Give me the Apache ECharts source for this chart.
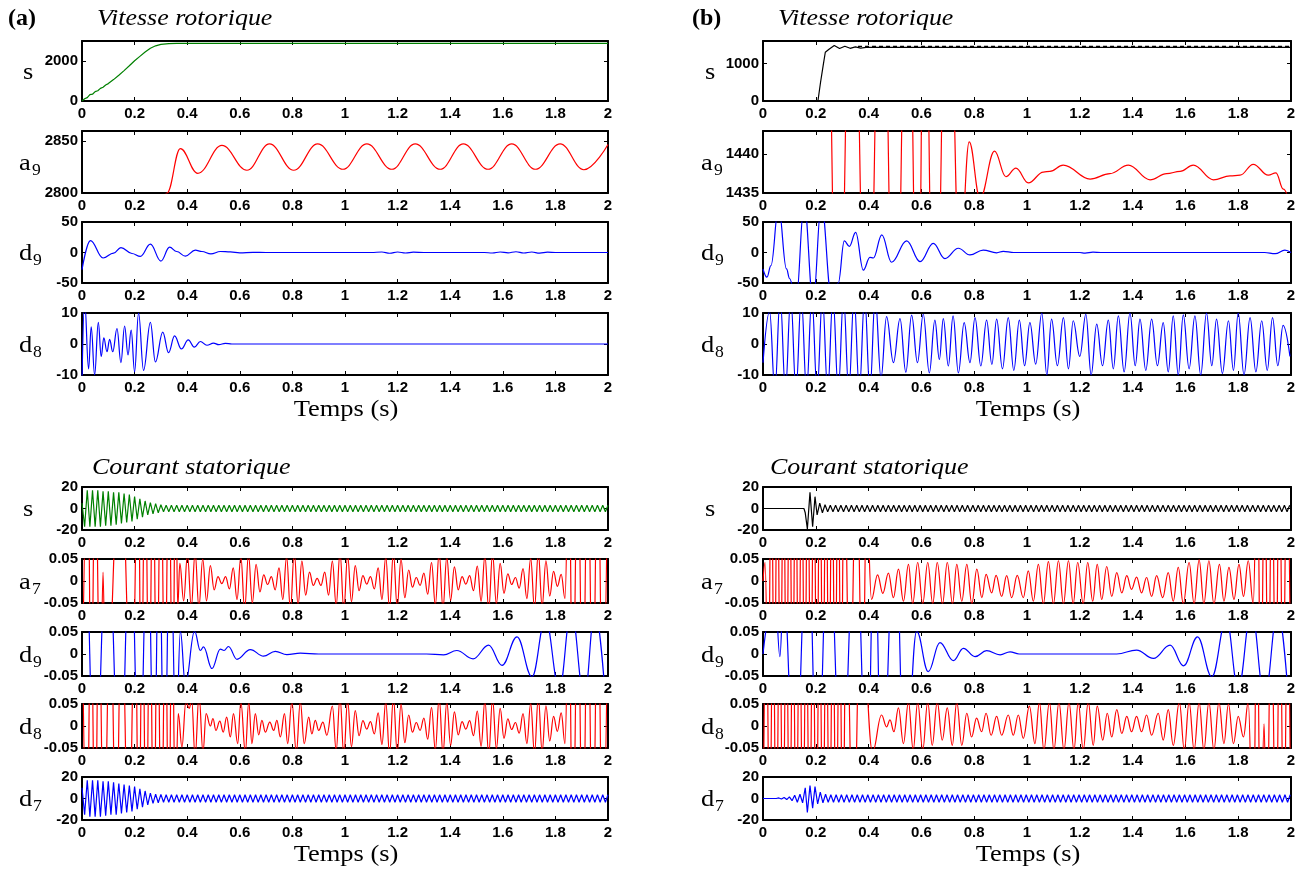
<!DOCTYPE html>
<html><head><meta charset="utf-8">
<script src="https://cdn.jsdelivr.net/npm/echarts@6/dist/echarts.min.js"></script>
<style>html,body{margin:0;padding:0;background:#fff}#c{width:1308px;height:870px}</style>
</head><body><div id="c"></div><script>
// ---------------- DATA ----------------
const xTickLabels = ['0','0.2','0.4','0.6','0.8','1','1.2','1.4','1.6','1.8','2'];

// Vitesse rotorique (a)
const aVitS = [[0,0],[0.01,110],[0.02,170],[0.03,320],[0.04,340],[0.05,470],[0.06,510],[0.07,630],[0.08,690],[0.09,800],[0.1,870],[0.12,1070],[0.14,1290],[0.16,1520],[0.18,1760],[0.2,2010],[0.22,2230],[0.24,2450],[0.26,2640],[0.28,2760],[0.3,2830],[0.33,2870],[0.36,2880],[2,2880]];
const aVitA9 = [[0.29,2770],[0.323,2800],[0.374,2843],[0.44,2819],[0.532,2846],[0.627,2822],[0.713,2847.5],[0.805,2822],[0.896,2847.5],[0.992,2823],[1.083,2847.5],[1.178,2823],[1.267,2847.5],[1.362,2823],[1.45,2847.5],[1.544,2823],[1.634,2847.5],[1.724,2823],[1.818,2847.5],[1.908,2822.5],[2.0,2847]];
const aVitD9 = [[0,-28],[0.032,19.6],[0.08,-9],[0.12,-1],[0.148,8],[0.19,-1.6],[0.222,-6.5],[0.26,13.6],[0.3,-14],[0.333,8.7],[0.36,1.6],[0.393,-6],[0.431,3.8],[0.456,1.6],[0.49,-2.2],[0.526,1.6],[0.564,1],[0.6,-0.5],[0.65,0.3],[0.7,0],[1.1,0],[1.14,0.8],[1.17,-1.2],[1.2,0.8],[1.23,-0.8],[1.26,0.5],[1.3,0],[1.53,0],[1.56,-0.8],[1.59,0.8],[1.62,-0.5],[1.65,1.2],[1.68,-0.8],[1.71,0.8],[1.74,-1],[1.77,0.5],[1.8,0],[2,0]];
const aVitD8 = [[0,-12],[0.01,14],[0.025,-8],[0.035,5.5],[0.048,-10],[0.062,7],[0.073,-4],[0.083,2],[0.095,-2.5],[0.105,1.5],[0.117,-2.5],[0.133,5],[0.148,-6],[0.162,5.8],[0.175,-3.5],[0.187,4.5],[0.2,-9],[0.215,10],[0.234,-8.5],[0.26,7],[0.279,-5.8],[0.307,3.8],[0.329,-2.8],[0.352,2.6],[0.378,-1.6],[0.404,1.3],[0.427,-1],[0.45,0.8],[0.475,-0.4],[0.5,0.3],[0.52,-0.2],[0.545,0.2],[0.57,0],[2,0]];

// Vitesse rotorique (b)
const bVitS = [[0,0],[0.2,0],[0.208,0],[0.218,500],[0.228,950],[0.236,1300],[0.25,1380],[0.27,1480],[0.29,1400],[0.31,1460],[0.33,1405],[0.35,1445],[0.37,1410],[0.39,1430],[2,1430]];
const bVitRef = [[0.36,1455],[2,1455]];
const bVitA9 = [[0,1470],[0.24,1470],[0.284,1405],[0.338,1475],[0.395,1405],[0.45,1475],[0.5,1405],[0.548,1475],[0.587,1410],[0.611,1470],[0.65,1405],[0.70,1475],[0.745,1425],[0.781,1441.6],[0.822,1434.3],[0.877,1440.4],[0.92,1437.1],[0.958,1438.2],[1.005,1436.3],[1.062,1437.7],[1.087,1437.8],[1.137,1438.6],[1.239,1436.8],[1.314,1437.5],[1.384,1438.6],[1.466,1436.7],[1.529,1437.5],[1.58,1437.8],[1.63,1438.6],[1.706,1436.7],[1.769,1437.2],[1.807,1437.3],[1.857,1438.7],[1.914,1437.3],[1.943,1437.6],[1.971,1435.5],[2,1433]];
const bVitD9 = [[0,-27],[0.015,-40.5],[0.03,-21.6],[0.059,75],[0.089,-27],[0.101,-43],[0.125,-80],[0.156,80],[0.19,-80],[0.221,80],[0.26,-75],[0.285,-50],[0.308,19],[0.327,10],[0.351,33],[0.38,-29],[0.405,-8],[0.418,-9],[0.45,29],[0.487,-16],[0.544,19],[0.595,-15],[0.645,15],[0.689,-10],[0.74,7],[0.784,-4],[0.834,4],[0.885,-0.5],[0.91,2],[0.95,0],[1.2,0],[1.22,-1],[1.25,0.5],[1.28,0],[1.9,0],[1.94,-2],[1.977,4],[2,0]];
const bVitD8 = [[0,-6],[0.025,10.5],[0.045,-15],[0.065,15],[0.085,-15],[0.105,15],[0.125,-15],[0.145,15],[0.165,-15],[0.185,15],[0.205,-15],[0.225,15],[0.245,-15],[0.265,15],[0.285,-15],[0.305,15],[0.325,-15],[0.345,15],[0.365,-15],[0.385,15],[0.405,-15],[0.425,15],[0.447,-11],[0.468,8.8],[0.494,-6],[0.519,8.2],[0.541,-9.1],[0.563,9.3],[0.585,-6],[0.607,9.6],[0.63,-9.3],[0.651,7.7],[0.668,-5],[0.683,8.2],[0.702,-7.1],[0.72,9.1],[0.74,-9.3],[0.762,6.9],[0.784,-6],[0.803,8.5],[0.825,-7.1],[0.847,7.7],[0.867,-6.6],[0.885,8],[0.907,-8],[0.929,8.5],[0.95,-8.5],[0.971,7.7],[0.991,-7],[1.011,6.9],[1.033,-6.5],[1.056,10],[1.075,-10],[1.093,8],[1.115,-7],[1.138,8.5],[1.157,-8],[1.175,7.5],[1.2,-4],[1.223,9.6],[1.243,-10],[1.264,6.4],[1.286,-7],[1.308,7.7],[1.327,-8],[1.346,9.1],[1.368,-9],[1.39,10],[1.41,-7],[1.428,8],[1.45,-8.5],[1.472,8],[1.494,-7],[1.516,6.9],[1.535,-9],[1.554,9.1],[1.573,-10],[1.592,9.4],[1.614,-8],[1.636,9.1],[1.658,-10],[1.68,10],[1.7,-7],[1.718,8],[1.74,-9.5],[1.763,7.5],[1.782,-8.5],[1.8,10],[1.822,-10],[1.845,8.5],[1.867,-9],[1.889,7.5],[1.91,-8.5],[1.93,8.5],[1.95,-7],[1.97,6],[1.996,-4]];

// Courant statorique (a) — extrema every 0.01 s from t = 0
const aCurS_t0 = 0, aCurS_dt = 0.01;
const aCurS_vals = [5,-17,17,-17,17,-17,17,-17,16,-16,16,-16,15,-15,15,-14,14,-13,13,-12,11,-10,9,-8,7,-6,5.5,-5,4.5,-4,3.5,
-3,3,-3,3,-3,3,-3,3,-3,3,-3,3,-3,3,-3,3,-3,3,-3,3,
-3,3,-3,3,-3,3,-3,3,-3,3,-3,3,-3,3,-3,3,-3,3,-3,3,
-3,3,-3,3,-3,3,-3,3,-3,3,-3,3,-3,3,-3,3,-3,3,-3,3,
-3,3,-3,3,-3,3,-3,3,-3,3,-3,3,-3,3,-3,3,-3,3,-3,3,
-3,3,-3,3,-3,3,-3,3,-3,3,-3,3,-3,3,-3,3,-3,3,-3,3,
-3,3,-3,3,-3,3,-3,3,-3,3,-3,3,-3,3,-3,3,-3,3,-3,3,
-3,3,-3,3,-3,3,-3,3,-3,3,-3,3,-3,3,-3,3,-3,3,-3,3,
-3,3,-3,3,-3,3,-3,3,-3,3,-3,3,-3,3,-3,3,-3,3,-3,3,
-3,3,-3,3,-3,3,-3,3,-3,3];
const aCurA7 = [[0,-0.3],[0.022,0.3],[0.035,-0.3],[0.05,0.3],[0.07,-0.3],[0.08,0.02],[0.09,-0.3],[0.146,0.3],[0.19,-0.3],[0.214,0.3],[0.225,-0.3],[0.24,0.3],[0.255,-0.3],[0.27,0.3],[0.284,-0.3],[0.3,0.3],[0.315,-0.3],[0.33,0.3],[0.345,-0.3],[0.356,0.3],[0.364,-0.06],
[0.372,0.040],[0.3865,-0.045],[0.401,0.06],[0.4155,-0.06],[0.43,0.065],[0.4445,-0.06],[0.459,0.05],[0.4735,-0.045],[0.488,0.035],[0.5025,-0.02],[0.517,0.01],[0.5315,-0.006],[0.546,0.01],[0.5605,-0.018],[0.575,0.03],[0.5895,-0.042],[0.604,0.055],[0.6185,-0.065],[0.633,0.06],[0.6475,-0.05],[0.662,0.038],[0.6765,-0.025],[0.691,0.014],[0.7055,-0.008],[0.72,0.01],[0.7345,-0.02],[0.749,0.03],[0.7635,-0.042],[0.778,0.055],[0.7925,-0.065],[0.807,0.065],[0.8215,-0.055],[0.836,0.045],[0.8505,-0.032],[0.865,0.02],[0.8795,-0.01],[0.894,0.006],[0.9085,-0.01],[0.923,0.02],[0.9375,-0.032],[0.952,0.045],[0.9665,-0.056],[0.981,0.065],[0.9955,-0.065],[1.01,0.058],[1.0245,-0.047],[1.039,0.035],[1.0535,-0.022],[1.068,0.012],[1.0825,-0.007],[1.097,0.01],[1.1115,-0.018],[1.126,0.03],[1.1405,-0.042],[1.155,0.055],[1.1695,-0.064],[1.184,0.065],[1.1985,-0.06],[1.213,0.05],[1.2275,-0.038],[1.242,0.025],[1.2565,-0.014],[1.271,0.008],[1.2855,-0.01],[1.3,0.018],[1.3145,-0.03],[1.329,0.042],[1.3435,-0.055],[1.358,0.065],[1.3725,-0.063],[1.387,0.055],[1.4015,-0.044],[1.416,0.032],[1.4305,-0.02],[1.445,0.01],[1.4595,-0.007],[1.474,0.012],[1.4885,-0.022],[1.503,0.034],[1.5175,-0.046],[1.532,0.058],[1.5465,-0.065],[1.561,0.062],[1.5755,-0.052],[1.59,0.04],[1.6045,-0.028],[1.619,0.016],[1.6335,-0.008],[1.648,0.008],[1.6625,-0.016],[1.677,0.028],[1.6915,-0.04],[1.706,0.052],[1.7205,-0.062],[1.735,0.065],[1.7495,-0.058],[1.764,0.046],[1.7785,-0.034],[1.793,0.022],[1.8075,-0.012],[1.822,0.015],[1.8365,-0.04],[1.851,0.3],[1.866,-0.3],[1.885,0.3],[1.904,-0.3],[1.923,0.3],[1.942,-0.3],[1.961,0.3],[1.98,-0.3],[2,0.3]];
const aCurD9 = [[0,0.3],[0.01,0.3],[0.049,-0.3],[0.097,0.3],[0.145,-0.3],[0.184,0.3],[0.218,-0.3],[0.25,0.3],[0.274,-0.3],[0.293,0.3],[0.313,-0.3],[0.335,0.3],[0.358,-0.2],[0.374,0.052],[0.393,-0.07],[0.428,0.052],[0.45,0.008],[0.462,0.016],[0.494,-0.033],[0.526,0.011],[0.54,0.008],[0.557,0.017],[0.589,-0.012],[0.64,0.01],[0.69,-0.005],[0.735,0.006],[0.779,-0.0015],[0.83,0.002],[0.9,0],[1.31,0],[1.375,-0.002],[1.425,0.008],[1.487,-0.011],[1.546,0.02],[1.597,-0.026],[1.654,0.039],[1.711,-0.052],[1.762,0.08],[1.815,-0.08],[1.86,0.1],[1.91,-0.1],[1.95,0.1],[1.99,-0.1]];
const aCurD8 = [[0,0.3],[0.019,-0.3],[0.034,0.3],[0.05,-0.3],[0.064,0.3],[0.083,-0.3],[0.108,0.3],[0.13,-0.3],[0.15,0.3],[0.178,-0.3],[0.202,0.3],[0.216,-0.3],[0.23,0.3],[0.244,-0.3],[0.258,0.3],[0.273,-0.3],[0.287,0.3],[0.302,-0.3],[0.317,0.3],[0.33,-0.3],[0.342,0.3],[0.355,-0.2],
[0.366,0.028],[0.38,-0.048],[0.395,0.055],[0.408,0.04],[0.417,0.06],[0.43,-0.07],[0.445,0.07],[0.46,-0.06],[0.472,0.028],[0.488,0],[0.498,0.017],[0.509,-0.01],[0.524,0.011],[0.537,-0.014],[0.55,0.02],[0.564,-0.025],[0.576,0.028],[0.592,-0.04],[0.604,0.055],[0.621,-0.06],[0.634,0.055],[0.646,-0.04],[0.659,0.028],[0.672,-0.02],[0.684,0.013],[0.697,-0.014],[0.714,0.009],[0.729,-0.01],[0.741,0.013],[0.754,-0.025],[0.77,0.028],[0.782,-0.04],[0.798,0.055],[0.815,-0.06],[0.83,0.055],[0.845,-0.04],[0.862,0.02],[0.874,-0.018],[0.887,0.013],[0.9,-0.01],[0.916,0.009],[0.931,-0.021],
[0.952,0.045],[0.9665,-0.056],[0.981,0.065],[0.9955,-0.065],[1.01,0.058],[1.0245,-0.047],[1.039,0.035],[1.0535,-0.022],[1.068,0.012],[1.0825,-0.007],[1.097,0.01],[1.1115,-0.018],[1.126,0.03],[1.1405,-0.042],[1.155,0.055],[1.1695,-0.064],[1.184,0.065],[1.1985,-0.06],[1.213,0.05],[1.2275,-0.038],[1.242,0.025],[1.2565,-0.014],[1.271,0.008],[1.2855,-0.01],[1.3,0.018],[1.3145,-0.03],[1.329,0.042],[1.3435,-0.055],[1.358,0.065],[1.3725,-0.063],[1.387,0.055],[1.4015,-0.044],[1.416,0.032],[1.4305,-0.02],[1.445,0.01],[1.4595,-0.007],[1.474,0.012],[1.4885,-0.022],[1.503,0.034],[1.5175,-0.046],[1.532,0.058],[1.5465,-0.065],[1.561,0.062],[1.5755,-0.052],[1.59,0.04],[1.6045,-0.028],[1.619,0.016],[1.6335,-0.008],[1.648,0.008],[1.6625,-0.016],[1.677,0.028],[1.6915,-0.04],[1.706,0.052],[1.7205,-0.062],[1.735,0.065],[1.7495,-0.058],[1.764,0.046],[1.7785,-0.034],[1.793,0.022],[1.8075,-0.012],[1.822,0.03],[1.8365,-0.04],[1.851,0.3],[1.866,-0.3],[1.885,0.3],[1.904,-0.3],[1.923,0.3],[1.942,-0.3],[1.961,0.3],[1.98,-0.3],[2,0.3]];
const aCurD7_t0 = 0, aCurD7_dt = 0.01;
const aCurD7_vals = [10,-15,17,-17,17,-17,17,-17,16,-16,16,-15,15,-15,14,-14,13,-13,12,-12,11,-10,9,-8,7,-6,5,-4.5,4,-4,3.8,
-3.5,3.5,-3.5,3.5,-3.5,3.5,-3.5,3.5,-3.5,3.5,-3.5,3.5,-3.5,3.5,-3.5,3.5,-3.5,3.5,-3.5,3.5,
-3.5,3.5,-3.5,3.5,-3.5,3.5,-3.5,3.5,-3.5,3.5,-3.5,3.5,-3.5,3.5,-3.5,3.5,-3.5,3.5,-3.5,3.5,
-3.5,3.5,-3.5,3.5,-3.5,3.5,-3.5,3.5,-3.5,3.5,-3.5,3.5,-3.5,3.5,-3.5,3.5,-3.5,3.5,-3.5,3.5,
-3.5,3.5,-3.5,3.5,-3.5,3.5,-3.5,3.5,-3.5,3.5,-3.5,3.5,-3.5,3.5,-3.5,3.5,-3.5,3.5,-3.5,3.5,
-3.5,3.5,-3.5,3.5,-3.5,3.5,-3.5,3.5,-3.5,3.5,-3.5,3.5,-3.5,3.5,-3.5,3.5,-3.5,3.5,-3.5,3.5,
-3.5,3.5,-3.5,3.5,-3.5,3.5,-3.5,3.5,-3.5,3.5,-3.5,3.5,-3.5,3.5,-3.5,3.5,-3.5,3.5,-3.5,3.5,
-3.5,3.5,-3.5,3.5,-3.5,3.5,-3.5,3.5,-3.5,3.5,-3.5,3.5,-3.5,3.5,-3.5,3.5,-3.5,3.5,-3.5,3.5,
-3.5,3.5,-3.5,3.5,-3.5,3.5,-3.5,3.5,-3.5,3.5,-3.5,3.5,-3.5,3.5,-3.5,3.5,-3.5,3.5,-3.5,3.5,
-3.5,3.5,-3.5,3.5,-3.5,3.5,-3.5,3.5,-3.5,3.5];

// Courant statorique (b)
const bCurS_burst = [[0,0],[0.155,0],[0.16,-4],[0.168,-19],[0.178,15],[0.188,-17],[0.197,11],[0.205,-6],[0.215,5],[0.225,-4],[0.235,3.5]];
const bCurS_t0 = 0.245, bCurS_dt = 0.01;
const bCurS_vals = [
-3,3,-3,3,-3,3,-3,3,-3,3,-3,3,-3,3,-3,3,-3,3,-3,3,
-3,3,-3,3,-3,3,-3,3,-3,3,-3,3,-3,3,-3,3,-3,3,-3,3,
-3,3,-3,3,-3,3,-3,3,-3,3,-3,3,-3,3,-3,3,-3,3,-3,3,
-3,3,-3,3,-3,3,-3,3,-3,3,-3,3,-3,3,-3,3,-3,3,-3,3,
-3,3,-3,3,-3,3,-3,3,-3,3,-3,3,-3,3,-3,3,-3,3,-3,3,
-3,3,-3,3,-3,3,-3,3,-3,3,-3,3,-3,3,-3,3,-3,3,-3,3,
-3,3,-3,3,-3,3,-3,3,-3,3,-3,3,-3,3,-3,3,-3,3,-3,3,
-3,3,-3,3,-3,3,-3,3,-3,3,-3,3,-3,3,-3,3,-3,3,-3,3,
-3,3,-3,3,-3,3,-3,3,-3,3,-3,3,-3,3,-3,3];
const bCurA7 = [[0,0],[0.008,0.042],[0.02,-0.3],[0.0315,0.3],[0.043,-0.3],[0.0545,0.3],[0.066,-0.3],[0.0775,0.3],[0.089,-0.3],[0.1005,0.3],[0.112,-0.3],[0.1235,0.3],[0.135,-0.3],[0.1465,0.3],[0.158,-0.3],[0.1695,0.3],[0.181,-0.3],[0.1925,0.3],[0.204,-0.3],[0.2155,0.3],[0.227,-0.3],[0.2385,0.3],[0.25,-0.3],[0.2615,0.3],[0.273,-0.3],[0.2845,0.3],[0.296,-0.3],[0.3075,0.3],[0.329,-0.3],[0.354,0.3],[0.378,-0.3],[0.392,0.2],[0.411,-0.042],[0.434,0.014],[0.454,-0.028],[0.475,0.018],[0.494,-0.038],[0.513,0.027],[0.532,-0.046],[0.551,0.038],[0.567,-0.052],[0.586,0.042],[0.605,-0.052],[0.624,0.042],[0.643,-0.052],[0.66,0.042],[0.68,-0.052],[0.698,0.042],[0.718,-0.052],[0.734,0.038],[0.753,-0.046],[0.772,0.038],[0.791,-0.052],[0.81,0.027],[0.829,-0.038],[0.845,0.015],[0.866,-0.027],[0.883,0.013],[0.904,-0.035],[0.923,0.012],[0.942,-0.038],[0.963,0.013],[0.986,-0.038],[1.005,0.023],[1.024,-0.046],[1.043,0.038],[1.062,-0.052],[1.081,0.044],[1.1,-0.052],[1.119,0.046],[1.138,-0.052],[1.157,0.046],[1.175,-0.052],[1.192,0.042],[1.213,-0.052],[1.23,0.042],[1.249,-0.046],[1.266,0.038],[1.283,-0.042],[1.302,0.033],[1.321,-0.035],[1.34,0.019],[1.359,-0.027],[1.378,0.012],[1.396,-0.019],[1.415,0.009],[1.434,-0.027],[1.453,0.008],[1.472,-0.035],[1.491,0.012],[1.514,-0.038],[1.535,0.019],[1.554,-0.046],[1.573,0.031],[1.592,-0.052],[1.614,0.042],[1.633,-0.052],[1.652,0.048],[1.67,-0.052],[1.689,0.046],[1.708,-0.052],[1.729,0.038],[1.746,-0.046],[1.765,0.031],[1.784,-0.042],[1.803,0.038],[1.82,-0.035],[1.838,0.046],[1.857,-0.052],[1.872,0.3],[1.886,-0.3],[1.9,0.3],[1.914,-0.3],[1.928,0.3],[1.942,-0.3],[1.956,0.3],[1.97,-0.3],[1.984,0.3],[2,-0.3]];
const bCurD9 = [[0,0],[0.045,0.15],[0.064,-0.006],[0.078,0.15],[0.12,-0.3],[0.17,0.3],[0.206,-0.3],[0.248,0.3],[0.298,-0.3],[0.35,0.3],[0.395,-0.3],[0.422,0.3],[0.45,-0.3],[0.5,0.3],[0.538,-0.3],[0.582,0.052],[0.626,-0.04],[0.67,0.026],[0.721,-0.015],[0.759,0.013],[0.803,-0.006],[0.847,0.0075],[0.898,-0.002],[0.936,0.005],[0.97,0],[1.34,0],[1.415,0.009],[1.479,-0.01],[1.542,0.02],[1.593,-0.027],[1.646,0.039],[1.7,-0.052],[1.755,0.08],[1.8,-0.08],[1.85,0.1],[1.9,-0.1],[1.95,0.1],[1.99,-0.1]];
const bCurD8 = [[0,-0.3],[0.0126,0.3],[0.0252,-0.3],[0.0378,0.3],[0.0504,-0.3],[0.063,0.3],[0.0756,-0.3],[0.0882,0.3],[0.1008,-0.3],[0.1134,0.3],[0.126,-0.3],[0.1386,0.3],[0.1512,-0.3],[0.1638,0.3],[0.1764,-0.3],[0.189,0.3],[0.2016,-0.3],[0.2142,0.3],[0.2268,-0.3],[0.2394,0.3],[0.252,-0.3],[0.2646,0.3],[0.2772,-0.3],[0.2898,0.3],[0.3024,-0.3],[0.315,0.3],[0.342,-0.3],[0.37,0.3],[0.415,-0.06],[0.449,0.025],[0.468,-0.002],[0.481,0.014],[0.496,-0.013],[0.513,0.041],[0.532,-0.04],[0.551,0.055],[0.569,-0.055],[0.586,0.055],[0.605,-0.055],[0.624,0.055],[0.641,-0.044],[0.66,0.055],[0.679,-0.032],[0.698,0.041],[0.717,-0.044],[0.734,0.055],[0.753,-0.044],[0.772,0.029],[0.79,-0.025],[0.809,0.018],[0.828,-0.013],[0.845,0.029],[0.864,-0.021],[0.885,0.022],[0.904,-0.021],[0.929,0.025],[0.948,-0.021],[0.967,0.025],[0.986,-0.028],[1.009,0.045],[1.03,-0.04],[1.047,0.055],[1.064,-0.055],[1.085,0.055],[1.102,-0.055],[1.121,0.055],[1.14,-0.055],[1.159,0.055],[1.178,-0.055],[1.194,0.055],[1.213,-0.055],[1.232,0.055],[1.251,-0.044],[1.266,0.045],[1.287,-0.032],[1.304,0.029],[1.321,-0.025],[1.34,0.037],[1.359,-0.017],[1.378,0.022],[1.396,-0.013],[1.415,0.022],[1.434,-0.013],[1.453,0.025],[1.472,-0.021],[1.497,0.029],[1.516,-0.032],[1.535,0.037],[1.554,-0.044],[1.577,0.055],[1.596,-0.055],[1.614,0.055],[1.633,-0.055],[1.652,0.055],[1.67,-0.055],[1.689,0.055],[1.708,-0.055],[1.727,0.055],[1.746,-0.04],[1.763,0.05],[1.782,-0.04],[1.8,0.022],[1.82,-0.025],[1.838,0.055],[1.857,-0.3],[1.871,0.3],[1.885,-0.3],[1.898,0.005],[1.908,-0.3],[1.925,0.3],[1.943,-0.3],[1.958,0.3],[1.973,-0.3],[1.987,0.3],[2,-0.3]];
const bCurD7_burst = [[0,0],[0.05,0],[0.06,0.5],[0.07,-0.5],[0.08,1],[0.09,-1],[0.1,1.5],[0.11,-2],[0.12,3],[0.13,-3.5],[0.14,4],[0.15,-4],[0.16,10],[0.168,-13],[0.178,12],[0.188,-9],[0.197,11],[0.207,-5],[0.217,6],[0.227,-4],[0.237,4]];
const bCurD7_t0 = 0.247, bCurD7_dt = 0.01;
const bCurD7_vals = [
-3.5,3.5,-3.5,3.5,-3.5,3.5,-3.5,3.5,-3.5,3.5,-3.5,3.5,-3.5,3.5,-3.5,3.5,-3.5,3.5,-3.5,3.5,
-3.5,3.5,-3.5,3.5,-3.5,3.5,-3.5,3.5,-3.5,3.5,-3.5,3.5,-3.5,3.5,-3.5,3.5,-3.5,3.5,-3.5,3.5,
-3.5,3.5,-3.5,3.5,-3.5,3.5,-3.5,3.5,-3.5,3.5,-3.5,3.5,-3.5,3.5,-3.5,3.5,-3.5,3.5,-3.5,3.5,
-3.5,3.5,-3.5,3.5,-3.5,3.5,-3.5,3.5,-3.5,3.5,-3.5,3.5,-3.5,3.5,-3.5,3.5,-3.5,3.5,-3.5,3.5,
-3.5,3.5,-3.5,3.5,-3.5,3.5,-3.5,3.5,-3.5,3.5,-3.5,3.5,-3.5,3.5,-3.5,3.5,-3.5,3.5,-3.5,3.5,
-3.5,3.5,-3.5,3.5,-3.5,3.5,-3.5,3.5,-3.5,3.5,-3.5,3.5,-3.5,3.5,-3.5,3.5,-3.5,3.5,-3.5,3.5,
-3.5,3.5,-3.5,3.5,-3.5,3.5,-3.5,3.5,-3.5,3.5,-3.5,3.5,-3.5,3.5,-3.5,3.5,-3.5,3.5,-3.5,3.5,
-3.5,3.5,-3.5,3.5,-3.5,3.5,-3.5,3.5,-3.5,3.5,-3.5,3.5,-3.5,3.5,-3.5,3.5,-3.5,3.5,-3.5,3.5,
-3.5,3.5,-3.5,3.5,-3.5,3.5,-3.5,3.5,-3.5,3.5,-3.5,3.5,-3.5,3.5,-3.5,3.5];

// y-axis ranges and tick labels
const yVitSA = {min:0, max:3000, step:2000, labels:['0','2000']};
const yVitA9A = {min:2800, max:2860, step:50, labels:['2800','2850']};
const yVitSB = {min:0, max:1600, step:1000, labels:['0','1000']};
const yVitA9B = {min:1435, max:1443, step:5, labels:['1435','1440']};
const yD9v = {min:-50, max:50, step:50, labels:['-50','0','50']};
const yD8v = {min:-10, max:10, step:10, labels:['-10','0','10']};
const yCur = {min:-20, max:20, step:20, labels:['-20','0','20']};
const yDet = {min:-0.05, max:0.05, step:0.05, labels:['-0.05','0','0.05']};

// ---------------- BUILD ----------------
function steps(t0, dt, vals){ return vals.map((v,i)=>[Math.round((t0+i*dt)*10000)/10000, v]); }
const aCurS = steps(aCurS_t0, aCurS_dt, aCurS_vals);
const aCurD7 = steps(aCurD7_t0, aCurD7_dt, aCurD7_vals);
const bCurS = bCurS_burst.concat(steps(bCurS_t0, bCurS_dt, bCurS_vals));
const bCurD7 = bCurD7_burst.concat(steps(bCurD7_t0, bCurD7_dt, bCurD7_vals));

const GREEN='#008000', RED='#ff0000', BLUE='#0000ff', BLACK='#000000';
const TICKFONT = "'Liberation Sans Narrow','Arial Narrow','Liberation Sans',Arial,sans-serif";
const SERIF = "'Liberation Serif','Times New Roman',serif";

const COLS = [{left:82, width:526, labelX:19}, {left:763, width:528, labelX:701}];
const ROWS_TOP = [{top:41,h:60},{top:131,h:62},{top:222,h:61},{top:313,h:62}];
const ROWS_BOT = [{top:487,h:43},{top:559,h:44},{top:632,h:44},{top:704,h:44},{top:777,h:43}];

const panels = [
 {c:0, r:ROWS_TOP[0], y:yVitSA, n:'s', sub:'', lines:[{d:aVitS, col:GREEN, sm:false}]},
 {c:0, r:ROWS_TOP[1], y:yVitA9A, n:'a', sub:'9', lines:[{d:aVitA9, col:RED, sm:true}]},
 {c:0, r:ROWS_TOP[2], y:yD9v, n:'d', sub:'9', lines:[{d:aVitD9, col:BLUE, sm:true}]},
 {c:0, r:ROWS_TOP[3], y:yD8v, n:'d', sub:'8', lines:[{d:aVitD8, col:BLUE, sm:true}]},
 {c:1, r:ROWS_TOP[0], y:yVitSB, n:'s', sub:'', lines:[{d:bVitS, col:BLACK, sm:false},{d:bVitRef, col:BLACK, sm:false, dash:true}]},
 {c:1, r:ROWS_TOP[1], y:yVitA9B, n:'a', sub:'9', lines:[{d:bVitA9, col:RED, sm:true}]},
 {c:1, r:ROWS_TOP[2], y:yD9v, n:'d', sub:'9', lines:[{d:bVitD9, col:BLUE, sm:true}]},
 {c:1, r:ROWS_TOP[3], y:yD8v, n:'d', sub:'8', lines:[{d:bVitD8, col:BLUE, sm:true}]},
 {c:0, r:ROWS_BOT[0], y:yCur, n:'s', sub:'', lines:[{d:aCurS, col:GREEN, sm:false}]},
 {c:0, r:ROWS_BOT[1], y:yDet, n:'a', sub:'7', lines:[{d:aCurA7, col:RED, sm:true}]},
 {c:0, r:ROWS_BOT[2], y:yDet, n:'d', sub:'9', lines:[{d:aCurD9, col:BLUE, sm:true}]},
 {c:0, r:ROWS_BOT[3], y:yDet, n:'d', sub:'8', lines:[{d:aCurD8, col:RED, sm:true}]},
 {c:0, r:ROWS_BOT[4], y:yCur, n:'d', sub:'7', lines:[{d:aCurD7, col:BLUE, sm:false}]},
 {c:1, r:ROWS_BOT[0], y:yCur, n:'s', sub:'', lines:[{d:bCurS, col:BLACK, sm:false}]},
 {c:1, r:ROWS_BOT[1], y:yDet, n:'a', sub:'7', lines:[{d:bCurA7, col:RED, sm:true}]},
 {c:1, r:ROWS_BOT[2], y:yDet, n:'d', sub:'9', lines:[{d:bCurD9, col:BLUE, sm:true}]},
 {c:1, r:ROWS_BOT[3], y:yDet, n:'d', sub:'8', lines:[{d:bCurD8, col:RED, sm:true}]},
 {c:1, r:ROWS_BOT[4], y:yCur, n:'d', sub:'7', lines:[{d:bCurD7, col:BLUE, sm:false}]}
];

function fmt(labels){
  return function(v){
    for (const s of labels){ const n = Number(s); if (Math.abs(n - v) < 1e-7*Math.max(1,Math.abs(n))) return s; }
    return '';
  };
}
const axLine = {show:true, onZero:false, lineStyle:{color:'#000', width:2}};
const axTick = {show:true, inside:true, length:4, lineStyle:{color:'#000', width:1}};
const labStyle = {color:'#000', fontFamily:TICKFONT, fontSize:15, fontWeight:'bold'};

const grid=[], xAxis=[], yAxis=[], series=[], texts=[];
function txt(x, y, s, font, align, sx){
  texts.push({type:'text', x:x, y:y, scaleX:sx||1, silent:true,
    style:{text:s, font:font, fill:'#000', textAlign:align||'left', textVerticalAlign:'middle', align:align||'left', verticalAlign:'middle'}});
}
panels.forEach((p,i)=>{
  const col = COLS[p.c];
  grid.push({left:col.left, top:p.r.top, width:col.width, height:p.r.h, containLabel:false});
  xAxis.push({type:'value', gridIndex:i, min:0, max:2, interval:0.2, position:'bottom', axisLine:axLine, axisTick:axTick,
    axisLabel:Object.assign({show:true, margin:5, formatter:fmt(xTickLabels)}, labStyle), splitLine:{show:false}});
  xAxis.push({type:'value', gridIndex:i, min:0, max:2, interval:0.2, position:'top', axisLine:axLine, axisTick:axTick,
    axisLabel:{show:false}, splitLine:{show:false}});
  yAxis.push({type:'value', gridIndex:i, min:p.y.min, max:p.y.max, interval:p.y.step, position:'left', axisLine:axLine, axisTick:axTick,
    axisLabel:Object.assign({show:true, margin:4, formatter:fmt(p.y.labels)}, labStyle), splitLine:{show:false}});
  yAxis.push({type:'value', gridIndex:i, min:p.y.min, max:p.y.max, interval:p.y.step, position:'right', axisLine:axLine, axisTick:axTick,
    axisLabel:{show:false}, splitLine:{show:false}});
  p.lines.forEach(l=>{
    series.push({type:'line', xAxisIndex:2*i, yAxisIndex:2*i, data:l.d, showSymbol:false, symbol:'none',
      smooth:l.sm ? 0.4 : false, smoothMonotone:'x', clip:true, animation:false, silent:true,
      lineStyle:{color:l.col, width:1.2, type:l.dash ? [4,3] : 'solid'}});
  });
  const cy = p.r.top + p.r.h/2;
  const lx = col.labelX + (p.n==='s' ? 4 : 0);
  txt(lx, cy+1.5, p.n, '23px '+SERIF, 'left', 1.15);
  if (p.sub) txt(lx + (p.n==='a' ? 13 : 14), cy+8.5, p.sub, '16px '+SERIF, 'left', 1.1);
});

// titles
txt(8, 19, '(a)', 'bold 24px '+SERIF, 'left', 1);
txt(97, 19, 'Vitesse rotorique', 'italic 23px '+SERIF, 'left', 1.13);
txt(692, 19, '(b)', 'bold 24px '+SERIF, 'left', 1);
txt(778, 19, 'Vitesse rotorique', 'italic 23px '+SERIF, 'left', 1.13);
txt(92, 468, 'Courant statorique', 'italic 23px '+SERIF, 'left', 1.13);
txt(770, 468, 'Courant statorique', 'italic 23px '+SERIF, 'left', 1.13);
txt(346, 410, 'Temps (s)', '23px '+SERIF, 'center', 1.15);
txt(1028, 410, 'Temps (s)', '23px '+SERIF, 'center', 1.15);
txt(346, 855, 'Temps (s)', '23px '+SERIF, 'center', 1.15);
txt(1028, 855, 'Temps (s)', '23px '+SERIF, 'center', 1.15);

const chart = echarts.init(document.getElementById('c'), null, {renderer:'canvas'});
chart.setOption({animation:false, backgroundColor:'#fff', grid:grid, xAxis:xAxis, yAxis:yAxis, series:series, graphic:{elements:texts}});
</script></body></html>
